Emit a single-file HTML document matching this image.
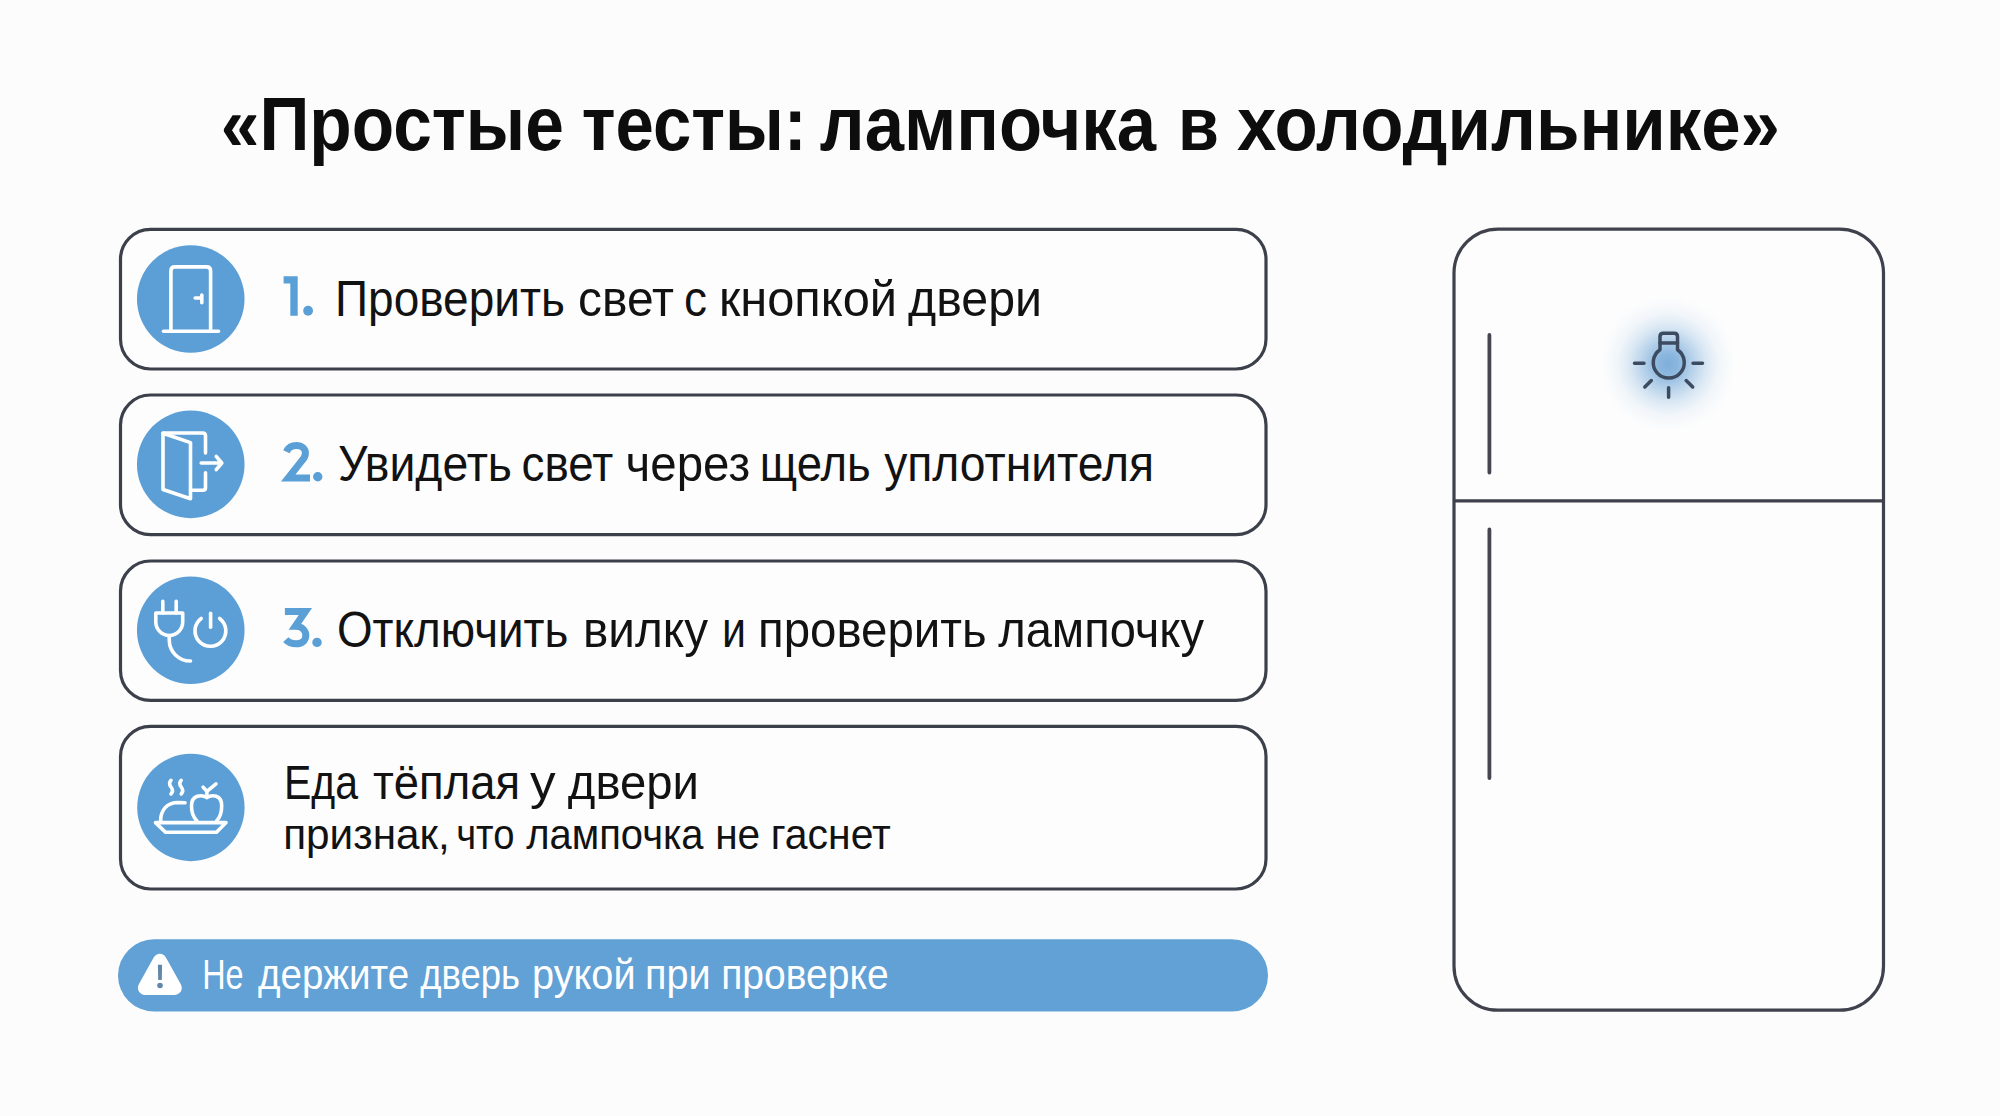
<!DOCTYPE html>
<html><head><meta charset="utf-8">
<style>
html,body{margin:0;padding:0;background:#fcfcfc;width:2000px;height:1116px;overflow:hidden}
svg{display:block}
text{font-family:"Liberation Sans",sans-serif}
</style></head>
<body>
<svg width="2000" height="1116" viewBox="0 0 2000 1116">
<defs>
<radialGradient id="glow" cx="0.5" cy="0.5" r="0.5">
<stop offset="0" stop-color="#5f9bd2" stop-opacity="0.8"/>
<stop offset="0.15" stop-color="#5f9bd2" stop-opacity="0.72"/>
<stop offset="0.35" stop-color="#639ed4" stop-opacity="0.48"/>
<stop offset="0.55" stop-color="#6aa3d6" stop-opacity="0.25"/>
<stop offset="0.75" stop-color="#78acda" stop-opacity="0.09"/>
<stop offset="1" stop-color="#88b6de" stop-opacity="0"/>
</radialGradient>
</defs>
<rect width="2000" height="1116" fill="#fcfcfc"/>

<text x="220.80" y="149.5" font-size="76" font-weight="bold" fill="#0d0d0d" textLength="343.00" lengthAdjust="spacingAndGlyphs">«Простые</text>
<text x="581.80" y="149.5" font-size="76" font-weight="bold" fill="#0d0d0d" textLength="225.00" lengthAdjust="spacingAndGlyphs">тесты:</text>
<text x="819.80" y="149.5" font-size="76" font-weight="bold" fill="#0d0d0d" textLength="336.20" lengthAdjust="spacingAndGlyphs">лампочка</text>
<text x="1178.00" y="149.5" font-size="76" font-weight="bold" fill="#0d0d0d" textLength="41.00" lengthAdjust="spacingAndGlyphs">в</text>
<text x="1237.00" y="149.5" font-size="76" font-weight="bold" fill="#0d0d0d" textLength="543.00" lengthAdjust="spacingAndGlyphs">холодильнике»</text>

<!-- cards -->
<g fill="#fdfdfd" stroke="#3c404a" stroke-width="3.2">
<rect x="120.5" y="229.3" width="1145.5" height="139.7" rx="30"/>
<rect x="120.5" y="395" width="1145.5" height="139.6" rx="30"/>
<rect x="120.5" y="561" width="1145.5" height="139.4" rx="30"/>
<rect x="120.5" y="726.4" width="1145.5" height="162.6" rx="30"/>
</g>

<!-- circles -->
<g fill="#5b9fd6">
<circle cx="190.75" cy="299" r="53.8"/>
<circle cx="190.75" cy="464.4" r="53.8"/>
<circle cx="190.75" cy="630.2" r="53.8"/>
<circle cx="190.9" cy="807.5" r="53.7"/>
</g>

<!-- icons -->
<g fill="none" stroke="#ffffff" stroke-width="3.6" stroke-linecap="round" stroke-linejoin="round">
<!-- door 1 -->
<path d="M170.9 331 V271 Q170.9 266.9 175 266.9 H206.5 Q210.6 266.9 210.6 271 V331"/>
<path d="M163.5 331.2 H218.5"/>
<path d="M195.2 298 H201.8 M201.8 295 V302.7"/>
<!-- door 2 -->
<path d="M163 433.2 L190.5 442.6 V498.8 L163 489.5 Z"/>
<path d="M163 433 H202.7 Q205.5 433 205.5 435.8 V453 M205.5 472.7 V487.4 Q205.5 490.2 202.7 490.2 H190.5"/>
<path d="M201.2 463 H221.5 M216.2 456.3 L221.8 463 L216.2 469.7"/>
<!-- plug -->
<path d="M162.8 601.4 V613 M176.2 601.4 V613"/>
<path d="M155.8 613 H182.7 V622 A13.45 13.45 0 0 1 155.8 622 Z"/>
<path d="M169.25 635.5 V640 A21 21 0 0 0 190.5 661"/>
<path d="M201.2 618.5 A15.4 15.4 0 1 0 219.6 618.5"/>
<path d="M210.6 613.2 V627.3"/>
<!-- food -->
<path d="M155.5 822.6 H226 L216.5 832.3 H165.5 Z"/>
<path d="M160.6 821 C160.6 810 167 802.5 178 802.5 L185 802.8"/>
<path d="M206.9 797.5 C202 794.5 191.5 794.5 191.5 806 C191.5 813 194 818 197 821 M206.9 797.5 C211.8 794.5 221.7 794.5 221.7 806 C221.7 813 219.5 818 216.5 821"/>
<path d="M203.1 787.1 L206.9 791.4 L216 783.9 M206.9 791.4 V797"/>
<path d="M171 780.3 C169 782.5 169 784.5 171 787 C173 789.5 173 791.8 171 793.9"/>
<path d="M181.2 780.3 C179.2 782.5 179.2 784.5 181.2 787 C183.2 789.5 183.2 791.8 181.2 793.9"/>
</g>

<!-- numbers -->
<path d="M283.6 276.3 H297.7 V315.7 H290.3 V283.4 H283.6 Z" fill="#5a9fd6"/>
<circle cx="308.1" cy="310.75" r="4.9" fill="#5a9fd6"/>
<path d="M286.4 451.8 C288.4 447.4 292 445.6 296.4 445.6 C301.8 445.6 305.4 448.7 305.4 453.2 C305.4 456.3 304 458.6 301.2 461.5 L288.2 478 H310" fill="none" stroke="#5a9fd6" stroke-width="7" stroke-linejoin="miter"/>
<circle cx="317.75" cy="476.8" r="4.7" fill="#5a9fd6"/>
<path d="M284.9 611.6 H305.4 L295.3 626.3 C301.8 626.3 305.8 630.3 305.8 635.6 C305.8 640.9 301.6 643.8 296 643.8 C291.6 643.8 288.2 642.3 285.8 639.6" fill="none" stroke="#5a9fd6" stroke-width="7" stroke-linejoin="miter"/>
<circle cx="317" cy="642.4" r="4.7" fill="#5a9fd6"/>
<text x="335.00" y="315.5" font-size="49.5" fill="#121212" textLength="230.00" lengthAdjust="spacingAndGlyphs">Проверить</text>
<text x="578.00" y="315.5" font-size="49.5" fill="#121212" textLength="96.00" lengthAdjust="spacingAndGlyphs">свет</text>
<text x="684.00" y="315.5" font-size="49.5" fill="#121212" textLength="23.00" lengthAdjust="spacingAndGlyphs">с</text>
<text x="719.00" y="315.5" font-size="49.5" fill="#121212" textLength="178.00" lengthAdjust="spacingAndGlyphs">кнопкой</text>
<text x="908.00" y="315.5" font-size="49.5" fill="#121212" textLength="134.00" lengthAdjust="spacingAndGlyphs">двери</text>
<text x="338.00" y="481.25" font-size="49.5" fill="#121212" textLength="174.00" lengthAdjust="spacingAndGlyphs">Увидеть</text>
<text x="521.60" y="481.25" font-size="49.5" fill="#121212" textLength="91.60" lengthAdjust="spacingAndGlyphs">свет</text>
<text x="625.60" y="481.25" font-size="49.5" fill="#121212" textLength="124.60" lengthAdjust="spacingAndGlyphs">через</text>
<text x="759.80" y="481.25" font-size="49.5" fill="#121212" textLength="111.00" lengthAdjust="spacingAndGlyphs">щель</text>
<text x="884.20" y="481.25" font-size="49.5" fill="#121212" textLength="269.80" lengthAdjust="spacingAndGlyphs">уплотнителя</text>
<text x="337.00" y="647" font-size="49.5" fill="#121212" textLength="231.40" lengthAdjust="spacingAndGlyphs">Отключить</text>
<text x="583.00" y="647" font-size="49.5" fill="#121212" textLength="125.00" lengthAdjust="spacingAndGlyphs">вилку</text>
<text x="722.00" y="647" font-size="49.5" fill="#121212" textLength="24.00" lengthAdjust="spacingAndGlyphs">и</text>
<text x="758.00" y="647" font-size="49.5" fill="#121212" textLength="228.80" lengthAdjust="spacingAndGlyphs">проверить</text>
<text x="998.20" y="647" font-size="49.5" fill="#121212" textLength="205.80" lengthAdjust="spacingAndGlyphs">лампочку</text>
<text x="284.00" y="799.4" font-size="49" fill="#121212" textLength="74.00" lengthAdjust="spacingAndGlyphs">Еда</text>
<text x="373.00" y="799.4" font-size="49" fill="#121212" textLength="147.00" lengthAdjust="spacingAndGlyphs">тёплая</text>
<text x="530.00" y="799.4" font-size="49" fill="#121212" textLength="25.60" lengthAdjust="spacingAndGlyphs">у</text>
<text x="567.80" y="799.4" font-size="49" fill="#121212" textLength="131.20" lengthAdjust="spacingAndGlyphs">двери</text>
<text x="283.20" y="848.5" font-size="42" fill="#121212" textLength="166.60" lengthAdjust="spacingAndGlyphs">признак,</text>
<text x="456.20" y="848.5" font-size="42" fill="#121212" textLength="58.20" lengthAdjust="spacingAndGlyphs">что</text>
<text x="526.20" y="848.5" font-size="42" fill="#121212" textLength="177.40" lengthAdjust="spacingAndGlyphs">лампочка</text>
<text x="715.20" y="848.5" font-size="42" fill="#121212" textLength="45.00" lengthAdjust="spacingAndGlyphs">не</text>
<text x="770.80" y="848.5" font-size="42" fill="#121212" textLength="120.00" lengthAdjust="spacingAndGlyphs">гаснет</text>

<!-- warning bar -->
<rect x="118" y="939.3" width="1150" height="72.3" rx="36.15" fill="#61a1d5"/>
<polygon points="159.8,960.8 144.8,987.9 174.8,987.9" fill="#ffffff" stroke="#ffffff" stroke-width="14" stroke-linejoin="round"/>
<path d="M157.9 964.7 H162.1 L161.8 980.1 H158.2 Z" fill="#6387a8"/>
<circle cx="160" cy="985.5" r="2.8" fill="#6387a8"/>
<text x="202.20" y="989.3" font-size="42" fill="#ffffff" textLength="41.40" lengthAdjust="spacingAndGlyphs">Не</text>
<text x="258.00" y="989.3" font-size="42" fill="#ffffff" textLength="151.20" lengthAdjust="spacingAndGlyphs">держите</text>
<text x="420.20" y="989.3" font-size="42" fill="#ffffff" textLength="99.80" lengthAdjust="spacingAndGlyphs">дверь</text>
<text x="532.00" y="989.3" font-size="42" fill="#ffffff" textLength="103.60" lengthAdjust="spacingAndGlyphs">рукой</text>
<text x="645.00" y="989.3" font-size="42" fill="#ffffff" textLength="65.60" lengthAdjust="spacingAndGlyphs">при</text>
<text x="721.20" y="989.3" font-size="42" fill="#ffffff" textLength="167.40" lengthAdjust="spacingAndGlyphs">проверке</text>

<!-- fridge -->
<rect x="1454" y="229.1" width="429.5" height="781.1" rx="44" fill="#fdfdfd" stroke="#3f424c" stroke-width="3.2"/>
<path d="M1454 500.9 H1883.5" stroke="#3f424c" stroke-width="3.4"/>
<path d="M1489.4 335 V472.5 M1489.4 529.5 V778" stroke="#45464f" stroke-width="3.8" stroke-linecap="round"/>

<!-- glow + bulb -->
<circle cx="1668" cy="364" r="68" fill="url(#glow)"/>
<g fill="none" stroke="#3d4b60" stroke-width="3.5" stroke-linecap="round" stroke-linejoin="round">
<path d="M1660 349.8 A15.5 15.5 0 1 0 1677.5 349.8 V336.5 Q1677.5 333.2 1674.2 333.2 H1663.3 Q1660 333.2 1660 336.5 Z"/>
<path d="M1660 343 H1677.5"/>
<path d="M1634.5 363.2 H1644 M1693 363.2 H1702.5 M1668.6 387.8 V397.3 M1651.3 380.5 L1644.8 387 M1686.2 380.5 L1692.7 387"/>
</g>
</svg>
</body></html>
